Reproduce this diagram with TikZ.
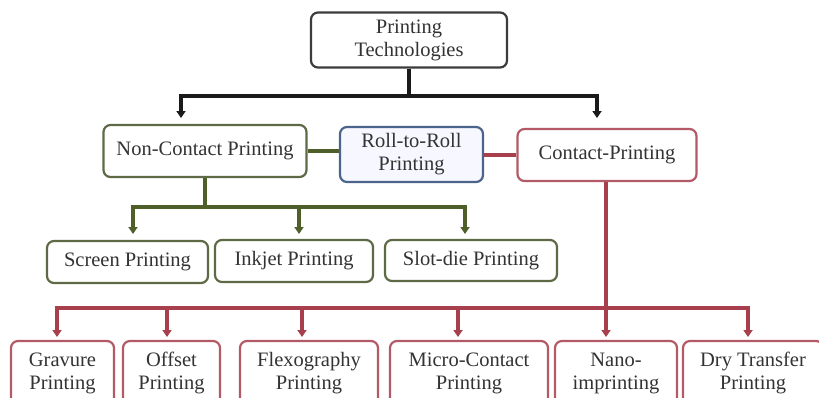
\documentclass[tikz,border=0pt]{standalone}
\usepackage{fontspec}
\setmainfont{Liberation Serif}
\usetikzlibrary{arrows.meta}
\definecolor{txt}{HTML}{333333}
\definecolor{olv}{HTML}{4F5F2A}
\definecolor{olvbox}{HTML}{5E6A45}
\definecolor{rd}{HTML}{A83F4C}
\definecolor{rdbox}{HTML}{B35A66}
\definecolor{bl}{HTML}{4A648C}
\definecolor{blk}{HTML}{1A1A1A}
\tikzset{
  box/.style={draw, rounded corners=7pt, line width=2.2pt, text=txt, align=center,
    inner sep=2pt, font=\fontsize{20.5}{23}\selectfont},
  topbox/.style={box, draw=blk!85, fill=white},
  gbox/.style={box, draw=olvbox, fill=white},
  rbox/.style={box, draw=rdbox, fill=white},
  bbox/.style={box, draw=bl, fill=blue!3},
  tip/.style={-{Triangle[width=9pt,length=7pt]}},
  blkline/.style={draw=blk, line width=3.6pt},
  gline/.style={draw=olv, line width=3.4pt},
  rline/.style={draw=rd, line width=3.2pt},
}
\begin{document}
\begin{tikzpicture}[x=1pt,y=-1pt]
\useasboundingbox (0,0) rectangle (819,397);
\clip (0,0) rectangle (819,397);
\fill[white] (0,0) rectangle (819,397);

% nodes
\node[topbox, minimum width=196pt, minimum height=55pt] (top) at (409,40) {Printing\\Technologies};
\node[gbox, minimum width=203pt, minimum height=52pt] (nc) at (205,151) {Non-Contact Printing};
\node[bbox, minimum width=143pt, minimum height=55pt] (rr) at (411.5,154.5) {Roll-to-Roll\\Printing};
\node[rbox, minimum width=179pt, minimum height=52pt] (cp) at (607,155) {Contact-Printing};

\node[gbox, minimum width=161pt, minimum height=42pt] (sp) at (127.5,262) {Screen Printing};
\node[gbox, minimum width=158pt, minimum height=42pt] (ip) at (294,261) {Inkjet Printing};
\node[gbox, minimum width=172pt, minimum height=41pt] (sd) at (471,260.5) {Slot-die Printing};

\node[rbox, minimum width=103pt, minimum height=64pt] (gp) at (62.5,373) {Gravure\\Printing};
\node[rbox, minimum width=97pt, minimum height=64pt] (op) at (171.5,373) {Offset\\Printing};
\node[rbox, minimum width=138pt, minimum height=64pt] (fp) at (309,373) {Flexography\\Printing};
\node[rbox, minimum width=158pt, minimum height=64pt] (mc) at (469,373) {Micro-Contact\\Printing};
\node[rbox, minimum width=122pt, minimum height=64pt] (ni) at (616,373) {Nano-\\imprinting};
\node[rbox, minimum width=140pt, minimum height=64pt] (dt) at (753,373) {Dry Transfer\\Printing};

% black tree
\coordinate (bj) at (409,96);
\coordinate (ba1) at (181,118);
\coordinate (ba2) at (597,118);
\draw[blkline] (top.south) -- (bj);
\draw[blkline, tip] (bj) -| (ba1);
\draw[blkline, tip] (bj) -| (ba2);

% side links
\draw[gline] (nc.east) -- (rr.west |- nc.east);
\draw[rline] (rr.east |- cp.west) -- (cp.west);

% green tree
\coordinate (gj) at (205,207);
\coordinate (ga1) at (133,234);
\coordinate (ga2) at (299,234);
\coordinate (ga3) at (465,234);
\draw[gline] (nc.south) -- (gj);
\draw[gline, tip] (gj) -| (ga1);
\draw[gline, tip] (gj) -| (ga2);
\draw[gline, tip] (gj) -| (ga3);

% red tree
\coordinate (rj) at (606,308);
\coordinate (ra1) at (57,337);
\coordinate (ra2) at (167,337);
\coordinate (ra3) at (302,337);
\coordinate (ra4) at (458,337);
\coordinate (ra5) at (606,337);
\coordinate (ra6) at (748,337);
\draw[rline] (cp.south -| rj) -- (rj);
\draw[rline, tip] (rj) -| (ra1);
\draw[rline, tip] (rj) -| (ra2);
\draw[rline, tip] (rj) -| (ra3);
\draw[rline, tip] (rj) -| (ra4);
\draw[rline, tip] (rj) -- (ra5);
\draw[rline, tip] (rj) -| (ra6);
\end{tikzpicture}
\end{document}
